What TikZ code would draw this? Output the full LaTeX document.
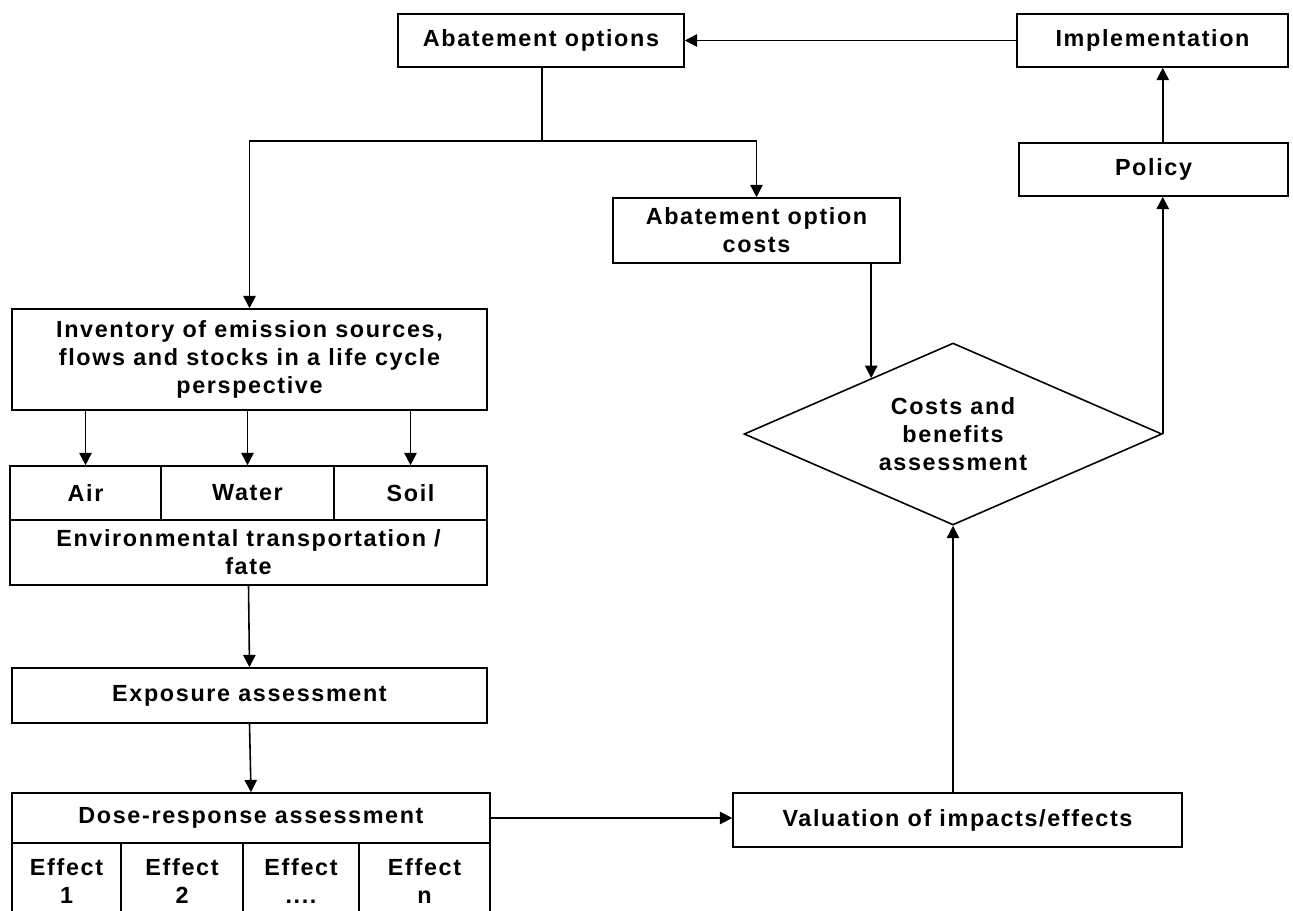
\documentclass[tikz,border=0pt]{standalone}
\usepackage{fontspec}
\setmainfont{Liberation Sans}[LetterSpace=7]
\usetikzlibrary{arrows.meta,calc,shapes.geometric}
\begin{document}
\begin{tikzpicture}[x=0.02cm,y=-0.02cm,line width=0.9pt,>={Triangle[length=7pt,width=7pt]},
    box/.style={draw,align=center,inner sep=1pt,font=\fontsize{13.3}{16}\selectfont\bfseries}]
            \useasboundingbox (0,0) rectangle (1293,910);
            \node[box,minimum width=5.72cm,minimum height=1.06cm] (opts) at (541,40.5) {Abatement options};
            \node[box,minimum width=5.42cm,minimum height=1.06cm] (impl) at (1152.5,40.5) {Implementation};
            \node[box,minimum width=5.38cm,minimum height=1.06cm] (policy) at (1153.5,169.5) {Policy};
            \node[box,minimum width=5.74cm,minimum height=1.3cm] (costs) at (756.5,230.5) {Abatement option\\costs};
            \node[box,diamond,aspect=2.3,inner sep=0pt,minimum width=8.36cm,minimum height=3.64cm] (cba) at (953,434) {Costs and\\benefits\\assessment};
            \node[box,minimum width=8.98cm,minimum height=1.08cm] (val) at (957.5,820) {Valuation of impacts/effects};
            \node[box,minimum width=9.5cm,minimum height=2.02cm] (inv) at (249.5,359.5) {Inventory of emission sources,\\flows and stocks in a life cycle\\perspective};
            \node[box,minimum width=3.02cm,minimum height=1.08cm] (air) at (85.5,493) {Air};
            \node[box,minimum width=3.46cm,minimum height=1.08cm] (water) at (247.5,493) {Water};
            \node[box,minimum width=3.06cm,minimum height=1.08cm] (soil) at (410.5,493) {Soil};
            \node[box,minimum width=9.54cm,minimum height=1.3cm] (fate) at (248.5,552.5) {Environmental transportation /\\fate};
            \node[box,minimum width=9.5cm,minimum height=1.1cm] (expo) at (249.5,695.5) {Exposure assessment};
            \node[box,minimum width=9.56cm,minimum height=1cm] (dose) at (251,818) {Dose-response assessment};
            \node[box,minimum width=2.18cm,minimum height=1.52cm] (eff1) at (66.5,881) {Effect\\1};
            \node[box,minimum width=2.44cm,minimum height=1.52cm] (eff2) at (182,881) {Effect\\2};
            \node[box,minimum width=2.32cm,minimum height=1.52cm] (eff3) at (301,881) {Effect\\....};
            \node[box,minimum width=2.62cm,minimum height=1.52cm] (eff4) at (424.5,881) {Effect\\n};
            \coordinate (split) at (542,141);
            \coordinate (cbain) at ($(cba.north)!0.39!(cba.west)$);
            \draw[->] (impl.west) -- (opts.east);
            \draw[->] (policy.north -| cba.east) -- (impl.south -| cba.east);
            \draw (opts.south -| split) -- (split);
            \draw[->] (split) -| (inv.north);
            \draw[->] (split) -| (costs.north);
            \draw[->] (costs.south -| cbain) -- (cbain);
            \draw[->] (cba.east) -- (cba.east |- policy.south);
            \draw[->] (val.north -| cba.south) -- (cba.south);
            \draw[->] (dose.east) -- (dose.east -| val.west);
            \foreach \m in {air,water,soil}
                \draw[->] (inv.south -| \m.north) -- (\m.north);
            \draw[->] (fate.south) -- (expo.north);
            \draw[->] (expo.south) -- (dose.north);
        \end{tikzpicture}
\end{document}
